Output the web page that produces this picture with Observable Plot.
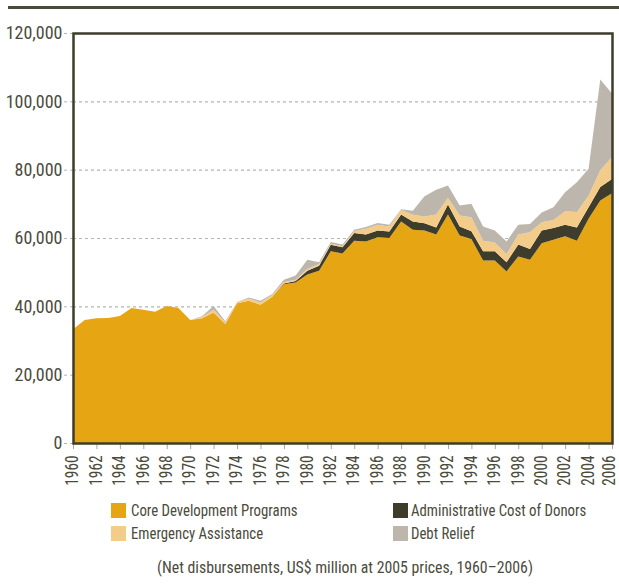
<!DOCTYPE html>
<html>
<head>
<meta charset="utf-8">
<script src="https://cdn.jsdelivr.net/npm/d3@7"></script>
<script src="https://cdn.jsdelivr.net/npm/@observablehq/plot@0.6"></script>
<style>
  html, body { margin: 0; padding: 0; background: #fff; }
  body { width: 619px; height: 588px; overflow: hidden; position: relative;
         font-family: "Liberation Sans Narrow", "Roboto Condensed", Roboto, "DejaVu Sans Condensed", sans-serif;
         color: #4b4b3c; }
  #topRule { position: absolute; left: 8px; right: 0; top: 6px; height: 2.5px; background: #4a4a3a; }
  #chart { position: absolute; left: 0; top: 0; }
  #legend { position: absolute; left: 0; top: 496px; width: 619px; height: 92px; font-size: 17px; }
  .item { position: absolute; display: flex; align-items: center; height: 16px; white-space: nowrap; }
  .sw { width: 15px; height: 15px; margin-right: 5px; flex: none; }
  .lt { display: inline-block; transform: scaleX(0.87); transform-origin: left center; }
  #caption { position: absolute; left: 157px; top: 61px; font-size: 17px; white-space: nowrap;
             transform: scaleX(0.93); transform-origin: left center; }
</style>
</head>
<body>
<div id="topRule"></div>
<div id="chart"></div>
<div id="legend"></div>
<script>
const years = d3.range(1960, 2007);
const seriesNames = ["Core Development Programs", "Administrative Cost of Donors", "Emergency Assistance", "Debt Relief"];
const seriesColors = ["#E6A613", "#3E3D2C", "#F4CC8A", "#BDB6AC"];
// values in US$ billion (x1000 = US$ million)
const core = [33.3,36.0,36.5,36.6,37.2,39.5,39.0,38.4,40.1,39.5,
              36.0,36.5,38.2,34.8,40.9,41.6,40.5,42.8,46.5,47.0,
              49.3,50.4,56.1,55.5,59.2,59.0,60.2,60.0,64.8,62.4,
              62.2,61.0,66.9,60.7,59.7,53.4,53.4,50.2,54.6,53.6,
              58.5,59.5,60.5,59.2,65.6,71.0,73.1];
const admin = [0,0,0,0,0,0,0,0,0,0,
               0,0,0,0,0,0,0,0,0.2,0.4,
               1.1,1.5,1.9,1.8,2.3,2.0,2.0,1.9,2.1,2.4,
               2.1,2.1,2.9,2.7,2.3,2.7,2.7,2.7,3.5,3.2,
               3.7,3.4,3.4,3.9,3.4,3.9,4.2];
const emergency = [0,0,0,0,0,0,0,0,0,0,
                   0,0.4,0.8,0.5,0.3,0.7,0.6,0.5,0.4,0.4,
                   0.6,0.5,0.3,0.3,0.5,1.7,1.7,1.5,1.4,2.0,
                   2.0,3.8,2.0,3.2,4.1,3.1,2.6,2.4,2.9,4.9,
                   2.4,2.4,3.9,4.5,3.4,4.9,6.4];
const debt = [0,0,0,0,0,0,0,0,0,0,
              0,0.2,1.1,0.3,0.1,0.3,0.5,0.3,0.7,1.2,
              2.6,0.5,0.5,0.5,0.4,0.5,0.5,0.5,0.1,1.2,
              5.9,7.2,3.6,2.9,3.9,4.2,3.5,3.7,2.9,2.4,
              2.9,3.7,5.6,8.7,7.9,26.6,18.6];
const yTicks = [0, 20000, 40000, 60000, 80000, 100000, 120000];
const xTicks = d3.range(1960, 2007, 2);
const caption = "(Net disbursements, US$ million at 2005 prices, 1960\u20132006)";

const seriesValues = [core, admin, emergency, debt];
const rows = [];
seriesNames.forEach((name, i) => {
  years.forEach((yr, j) => rows.push({year: yr, series: name, value: seriesValues[i][j] * 1000}));
});

const textColor = "#4b4b3c";
const chart = Plot.plot({
  width: 619,
  height: 496,
  marginTop: 33,
  marginBottom: 53,
  marginLeft: 73,
  marginRight: 7,
  style: {fontFamily: "'Liberation Sans Narrow', 'Roboto Condensed', Roboto, 'DejaVu Sans Condensed', sans-serif", fontSize: "18px", color: textColor, background: "transparent", overflow: "visible"},
  x: {domain: [1960, 2006], label: null},
  y: {domain: [0, 120000], label: null},
  color: {domain: seriesNames, range: seriesColors},
  marks: [
    Plot.gridY(yTicks, {stroke: "#b5b5ae", strokeOpacity: 1, strokeDasharray: "3,3", strokeWidth: 1.2}),
    Plot.areaY(rows, {x: "year", y: "value", fill: "series", order: seriesNames}),
    Plot.axisY(yTicks, {tickSize: 9, tickPadding: 2, stroke: "#b5b5ae", strokeDasharray: "3,3", tickFormat: d3.format(","), fill: textColor, label: null}),
    Plot.axisX(xTicks, {tickSize: 6, tickPadding: 6, stroke: "#a8a8a0", tickRotate: -90, tickFormat: d => String(d), fill: textColor, label: null, fontSize: 18}),
    Plot.frame({stroke: "#3E3D2C", strokeWidth: 2.5})
  ]
});
document.getElementById("chart").appendChild(chart);

// compress the rotated year labels along their length (condensed look); keep the last one inside the page
const xLabels = d3.select(chart).selectAll("g[aria-label='x-axis tick label'] text").nodes();
xLabels.forEach((node, i) => {
  const t = node.getAttribute("transform");
  const shift = i === xLabels.length - 1 ? -3 : -1;
  if (t) node.setAttribute("transform", t + ` translate(0,${shift}) scale(0.85,1)`);
});

const legend = document.getElementById("legend");
const legendPos = [[111, 6], [393, 6], [111, 29], [393, 29]];
const legendLabels = ["Core Development Programs", "Administrative Cost of Donors", "Emergency Assistance", "Debt Relief"];
[0, 1, 2, 3].forEach((si, k) => {
  const it = document.createElement("div");
  it.className = "item";
  it.style.left = legendPos[k][0] + "px";
  it.style.top = legendPos[k][1] + "px";
  const sw = document.createElement("div");
  sw.className = "sw";
  sw.style.background = seriesColors[si];
  if (legendPos[k][0] > 300) sw.style.marginRight = "3px";
  const tx = document.createElement("span");
  tx.className = "lt";
  tx.textContent = legendLabels[si];
  it.appendChild(sw); it.appendChild(tx);
  legend.appendChild(it);
});
const cap = document.createElement("div");
cap.id = "caption";
cap.textContent = caption;
legend.appendChild(cap);
</script>
</body>
</html>
